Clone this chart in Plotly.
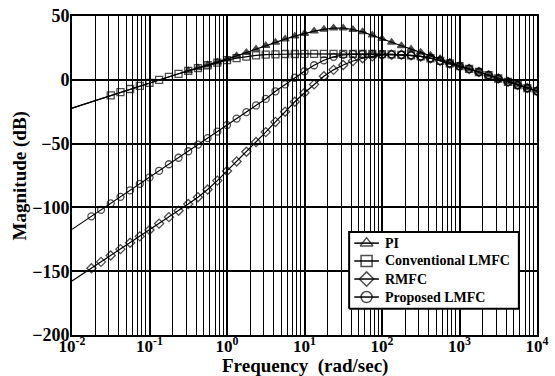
import plotly.graph_objects as go

# Frequency points (rad/sec)
FREQ = [0.01, 0.0178, 0.0237, 0.0316, 0.0422, 0.0562, 0.075, 0.1, 0.133, 0.178,
        0.237, 0.316, 0.422, 0.562, 0.75, 1, 1.33, 1.78, 2.37, 3.16,
        4.22, 5.62, 7.5, 10, 13.3, 17.8, 23.7, 31.6, 42.2, 56.2,
        75, 100, 133, 178, 237, 316, 422, 562, 750, 1000,
        1330, 1780, 2370, 3160, 4220, 5620, 7500, 10000]

# Magnitude (dB) of each controller
PI = [-22.2, -17.2, -14.7, -12.2, -9.7, -7.2, -4.8, -2.4, 0.0, 2.3,
      4.7, 7.0, 9.3, 11.6, 13.9, 16.2, 18.7, 21.4, 24.1, 26.8,
      29.4, 31.9, 34.2, 36.3, 38.1, 39.5, 40.6, 40.5, 39.4, 37.6,
      35.0, 32.2, 29.4, 26.7, 24.0, 21.5, 19.2, 16.6, 13.6, 11.0,
      8.6, 6.1, 3.6, 1.0, -1.6, -4.1, -6.5, -8.8]

CONV_LMFC = [-22.2, -17.2, -14.7, -12.2, -9.7, -7.2, -4.8, -2.4, 0.0, 2.3,
             4.7, 7.0, 9.2, 11.4, 13.5, 15.4, 17.0, 18.2, 19.1, 19.7,
             20.0, 20.2, 20.2, 20.3, 20.3, 20.3, 20.3, 20.3, 20.3, 20.2,
             20.2, 20.1, 19.9, 19.6, 19.2, 18.3, 16.9, 14.9, 12.8, 10.7,
             8.5, 6.1, 3.6, 1.0, -1.6, -4.1, -6.5, -8.8]

RMFC = [-157.7, -147.7, -142.7, -137.7, -132.7, -127.7, -122.7, -117.7, -112.7, -107.6,
        -102.6, -97.4, -92.0, -86.0, -79.0, -71.5, -64.0, -56.4, -48.8, -41.0,
        -33.0, -25.0, -17.2, -10.2, -3.6, 2.8, 7.8, 11.6, 14.7, 16.9,
        18.4, 19.4, 19.7, 19.6, 19.2, 18.3, 16.9, 14.9, 12.8, 10.7,
        8.5, 6.1, 3.6, 1.0, -1.6, -4.1, -6.5, -8.8]

PROP_LMFC = [-117.2, -107.0, -101.9, -96.8, -91.7, -86.6, -81.5, -76.5, -71.3, -66.2,
             -61.1, -56.0, -50.8, -45.7, -40.6, -35.5, -30.4, -25.3, -20.1, -15.0,
             -9.0, -3.6, 1.6, 6.7, 11.4, 15.3, 18.0, 19.5, 20.1, 20.2,
             20.2, 20.1, 19.9, 19.6, 19.2, 18.3, 16.9, 14.9, 12.8, 10.7,
             8.5, 6.1, 3.6, 1.0, -1.6, -4.1, -6.5, -8.8]

NAMES = ["PI", "Conventional LMFC", "RMFC", "Proposed LMFC"]
X_TICKS = [0.01, 0.1, 1, 10, 100, 1000, 10000]
X_TICK_TEXT = ["10<sup>-2</sup>", "10<sup>-1</sup>", "10<sup>0</sup>", "10<sup>1</sup>",
               "10<sup>2</sup>", "10<sup>3</sup>", "10<sup>4</sup>"]
Y_TICKS = [50, 0, -50, -100, -150, -200]

FONT = "Times New Roman, Liberation Serif, serif"

# (values, name, plot symbol, legend symbol, index of first marker)
series = [
    (PROP_LMFC, NAMES[3], "circle-open", "circle-open", 1),
    (RMFC, NAMES[2], "diamond-open", "diamond-open", 1),
    (CONV_LMFC, NAMES[1], "square-open", "square-open", 3),
    (PI, NAMES[0], "triangle-up", "triangle-up-open", 11),
]

fig = go.Figure()
for vals, nm, sym, _, first in series:
    sizes = [0 if i < first else 7 for i in range(len(FREQ))]
    fig.add_trace(go.Scatter(
        x=FREQ, y=vals, mode="lines+markers", showlegend=False, name=nm,
        line=dict(color="black", width=1.2),
        marker=dict(symbol=sym, size=sizes, color="black", line=dict(color="black", width=1.3)),
    ))

# Legend drawn on an overlay axis spanning [0, 1] x [0, 1] of the plot area
box_x0, box_x1, box_y0, box_y1 = 0.596, 0.961, 0.082, 0.323
fig.add_trace(go.Scatter(
    x=[box_x0, box_x1, box_x1, box_x0, box_x0],
    y=[box_y0, box_y0, box_y1, box_y1, box_y0],
    xaxis="x2", yaxis="y2", mode="lines", fill="toself", fillcolor="white",
    line=dict(color="black", width=2), showlegend=False, hoverinfo="skip",
))
row_y = [0.288, 0.232, 0.1755, 0.119]
sym_x0, sym_x1, text_x = 0.607, 0.660, 0.668
legend_order = [series[3], series[2], series[1], series[0]]
for (vals, nm, _, lsym, _), yy in zip(legend_order, row_y):
    fig.add_trace(go.Scatter(
        x=[sym_x0, (sym_x0 + sym_x1) / 2, sym_x1], y=[yy, yy, yy],
        xaxis="x2", yaxis="y2", mode="lines+markers", showlegend=False, hoverinfo="skip",
        line=dict(color="black", width=1.5),
        marker=dict(symbol=lsym, size=[0, 11, 0], color="black", line=dict(color="black", width=1.5)),
    ))
    fig.add_annotation(
        x=text_x, y=yy, xref="paper", yref="paper", text=nm, showarrow=False,
        xanchor="left", yanchor="middle",
        font=dict(family=FONT, size=14, color="black", weight="bold"),
    )

# Axis titles
fig.add_annotation(
    x=0.5, y=-0.098, xref="paper", yref="paper", text="Frequency  (rad/sec)",
    showarrow=False, xanchor="center", yanchor="middle",
    font=dict(family=FONT, size=19, color="black", weight="bold"),
)
fig.add_annotation(
    x=-0.112, y=0.5, xref="paper", yref="paper", text="Magnitude (dB)",
    showarrow=False, xanchor="center", yanchor="middle", textangle=-90,
    font=dict(family=FONT, size=19, color="black", weight="bold"),
)

fig.update_layout(
    width=555, height=376,
    margin=dict(l=72, r=18, t=16, b=41),
    paper_bgcolor="white", plot_bgcolor="white",
    font=dict(family=FONT, color="black", size=18, weight="bold"),
    showlegend=False,
    xaxis=dict(
        type="log", range=[-2, 4], automargin=False,
        tickmode="array", tickvals=X_TICKS, ticktext=X_TICK_TEXT,
        showgrid=True, gridcolor="black", gridwidth=2,
        minor=dict(dtick="D1", showgrid=True, gridcolor="black", gridwidth=1.2, ticks=""),
        showline=True, linecolor="black", linewidth=2, mirror=True,
        ticks="", ticklabelstandoff=-5,
        tickfont=dict(size=17, family=FONT, weight="bold"),
    ),
    yaxis=dict(
        range=[-200, 50], tickmode="array", tickvals=Y_TICKS, automargin=False,
        showgrid=True, gridcolor="black", gridwidth=1.5, zeroline=False,
        showline=True, linecolor="black", linewidth=2, mirror=True,
        ticks="", ticklabelstandoff=-3,
        tickfont=dict(size=18, family=FONT, weight="bold"),
    ),
    xaxis2=dict(overlaying="x", anchor="y2", range=[0, 1], visible=False, fixedrange=True),
    yaxis2=dict(overlaying="y", anchor="x2", range=[0, 1], visible=False, fixedrange=True),
)

fig.write_html("out.html")
